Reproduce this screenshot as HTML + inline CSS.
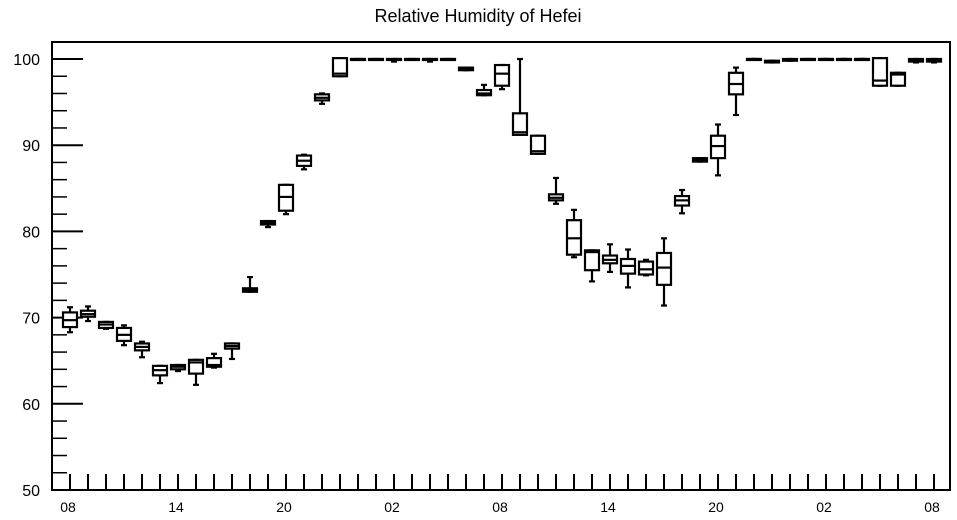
<!DOCTYPE html>
<html><head><meta charset="utf-8"><style>
body{margin:0;background:#fff;}
svg{display:block;font-family:"Liberation Sans",sans-serif;}
</style></head><body>
<svg id="chart" width="957" height="520" viewBox="0 0 957 520">
<text x="478" y="22" font-size="18" text-anchor="middle">Relative Humidity of Hefei</text>
<g id="axes"></g><g id="boxes"></g>
</svg>
<script>
const hourLabels=["08","14","20","02","08","14","20","02","08"];
const yTicks=[50,60,70,80,90,100];
const lows =[68.3,69.6,68.7,66.8,65.4,62.4,63.8,62.2,64.2,65.2,73.0,80.5,82.0,87.2,94.8,98.0,99.9,99.9,99.7,99.9,99.7,99.9,98.7,95.8,96.5,91.2,89.0,83.2,77.0,74.2,75.3,73.5,74.9,71.4,82.1,88.1,86.5,93.5,100,99.6,99.8,99.9,100,100,100,96.9,96.9,99.6,99.6];
const q1s  =[68.9,70.1,68.8,67.3,66.2,63.3,64.0,63.5,64.3,66.4,73.0,80.8,82.4,87.6,95.2,98.0,99.9,99.9,99.9,99.9,99.9,99.9,98.7,95.8,96.9,91.2,89.0,83.6,77.3,75.5,76.3,75.1,75.0,73.8,83.0,88.1,88.5,95.9,100,99.6,99.8,99.9,100,100,100,96.9,96.9,99.7,99.7];
const meds =[69.7,70.4,69.2,68.0,66.6,63.9,64.3,64.8,64.5,66.7,73.2,81.0,84.0,88.2,95.5,98.3,100,100,100,100,100,100,98.8,96.0,98.3,91.5,89.3,83.9,79.2,77.6,76.7,76.0,75.6,75.8,83.6,88.3,89.9,97.1,100,99.7,99.9,100,100,100,100,97.5,98.2,99.8,99.8];
const q3s  =[70.6,70.8,69.5,68.8,67.0,64.4,64.5,65.1,65.3,67.0,73.4,81.2,85.4,88.8,95.9,100.1,100,100,100,100,100,100,99.0,96.4,99.3,93.7,91.1,84.3,81.3,77.8,77.2,76.8,76.5,77.5,84.1,88.5,91.1,98.4,100,99.8,100,100,100,100,100,100.1,98.4,100,100];
const highs=[71.2,71.3,69.5,69.1,67.2,64.4,64.5,65.1,65.8,67.0,74.7,81.2,85.4,88.9,96.0,100.1,100,100,100,100,100,100,99.0,97.0,99.3,100,91.1,86.2,82.5,77.8,78.5,77.9,76.7,79.2,84.8,88.5,92.4,99.0,100,99.8,100,100,100,100,100,100.1,98.4,100,100];
const NS="http://www.w3.org/2000/svg";
const L=52,R=950,T=42,B=490;
const xS=i=>70+18*i;
const yS=v=>490-(v-50)*8.62;
function mk(tag,attrs,parent){const e=document.createElementNS(NS,tag);for(const k in attrs)e.setAttribute(k,attrs[k]);parent.appendChild(e);return e;}
const ax=document.getElementById('axes');
const fr=mk('rect',{x:L,y:T,width:R-L,height:B-T,fill:'none',stroke:'#000','stroke-width':2},ax);


for(let v=50;v<=102;v+=2){
  const major=v%10===0;
  const t=mk('line',{x1:L,x2:L+(major?31:15),y1:yS(v),y2:yS(v),stroke:'#000','stroke-width':major?2:1.5},ax);
  
  
}
yTicks.forEach(v=>{
  const t=mk('text',{x:40,y:yS(v)+6,'font-size':16,'text-anchor':'end'},ax);t.textContent=v;
  
  
});
for(let i=0;i<49;i++){
  const t=mk('line',{x1:xS(i),x2:xS(i),y1:B,y2:B-16,stroke:'#000','stroke-width':2},ax);
  
  
}
hourLabels.forEach((s,k)=>{
  const t=mk('text',{x:xS(k*6)-2,y:512,'font-size':14,'text-anchor':'middle'},ax);t.textContent=s;
  
  
});
const bx=document.getElementById('boxes');
meds.forEach((m,i)=>{
  const g=mk('g',{stroke:'#000','stroke-width':2.2,fill:'none'},bx);
  
  
  const x=xS(i),w=7;
  const yq1=yS(q1s[i]),yq3=yS(q3s[i]);
  mk('line',{x1:x,x2:x,y1:yS(highs[i]),y2:yq3},g);
  mk('line',{x1:x,x2:x,y1:yq1,y2:yS(lows[i])},g);
  mk('line',{x1:x-3,x2:x+3,y1:yS(highs[i]),y2:yS(highs[i])},g);
  mk('line',{x1:x-3,x2:x+3,y1:yS(lows[i]),y2:yS(lows[i])},g);
  mk('rect',{x:x-w,y:yq3,width:2*w,height:Math.max(1,yq1-yq3),fill:'#fff'},g);
  mk('line',{x1:x-w,x2:x+w,y1:yS(m),y2:yS(m)},g);
});
</script>
</body></html>
